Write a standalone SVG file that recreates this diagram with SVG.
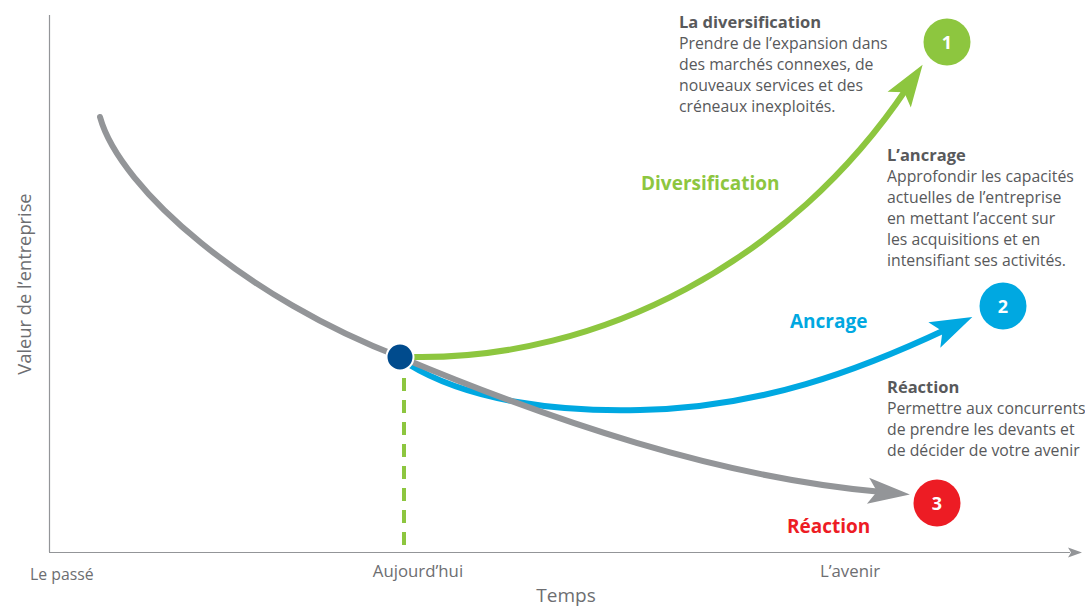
<svg xmlns="http://www.w3.org/2000/svg" width="1085" height="609" viewBox="0 0 1085 609">
<style>
.t{font-family:"Open Sans","Noto Sans",sans-serif;fill:#58595b;font-size:15.8px}
.h{font-family:"Open Sans","Noto Sans",sans-serif;fill:#58595b;font-size:16.5px;font-weight:bold}
.ax{font-family:"Open Sans","Noto Sans",sans-serif;fill:#6d6e71;font-weight:400}
.lab{font-family:"Open Sans","Noto Sans",sans-serif;font-size:19px;font-weight:bold}
.num{font-family:"Open Sans","Noto Sans",sans-serif;fill:#fff;font-size:18px;font-weight:bold;text-anchor:middle}
.curve{fill:none;stroke-width:6;stroke-linecap:round}
</style>
<defs>
<marker id="ag" markerUnits="userSpaceOnUse" markerWidth="60" markerHeight="40" viewBox="-5 -20 60 40" refX="14" refY="0" orient="auto"><path d="M0,-14 L42,0 L0,14 L9,0 Z" fill="#8dc63f"/></marker>
<marker id="ab" markerUnits="userSpaceOnUse" markerWidth="60" markerHeight="40" viewBox="-5 -20 60 40" refX="14" refY="0" orient="auto"><path d="M0,-14 L42,0 L0,14 L9,0 Z" fill="#00a8e1"/></marker>
<marker id="ar" markerUnits="userSpaceOnUse" markerWidth="60" markerHeight="40" viewBox="-5 -20 60 40" refX="14" refY="0" orient="auto"><path d="M0,-13 L42,0 L0,13 L9,0 Z" fill="#939598"/></marker>
<marker id="ax" markerUnits="userSpaceOnUse" markerWidth="20" markerHeight="14" viewBox="-2 -7 20 14" refX="2" refY="0" orient="auto"><path d="M0,-5 L14,0 L0,5 L3,0 Z" fill="#939598"/></marker>
</defs>
<g id="axes">
<line x1="49.5" y1="15" x2="49.5" y2="552" stroke="#939598" stroke-width="1.2"/>
<line x1="49" y1="552.5" x2="1070" y2="552.5" stroke="#939598" stroke-width="1.2" marker-end="url(#ax)"/>
<text class="ax" x="30" y="580" font-size="15.8">Le passé</text>
<text class="ax" x="418" y="577" text-anchor="middle" font-size="16.8">Aujourd’hui</text>
<text class="ax" x="850" y="577" text-anchor="middle" font-size="16.8">L’avenir</text>
<text class="ax" x="566" y="602" text-anchor="middle" font-size="19">Temps</text>
<text class="ax" transform="translate(31,284) rotate(-90)" text-anchor="middle" font-size="18.3">Valeur de l’entreprise</text>
</g>
<g id="connectors">
<line x1="404" y1="378" x2="404" y2="552" stroke="#8dc63f" stroke-width="4" stroke-dasharray="13,9"/>
<path class="curve" stroke="#00a8e1" d="M408,364 C470,402 560,412 640,410 C760,408 860,370 947,329" marker-end="url(#ab)"/>
<path class="curve" stroke="#939598" d="M100,117 C120,190 250,300 400,357 C550,420 720,478 882,492" marker-end="url(#ar)"/>
<path class="curve" stroke="#8dc63f" d="M413,357 C600,360 790,262 907,88" marker-end="url(#ag)"/>
</g>
<g id="today">
<circle cx="400" cy="357" r="13.5" fill="#004b8d" stroke="#fff" stroke-width="2"/>
</g>
<g id="node1">
<circle cx="947" cy="42" r="23.5" fill="#8dc63f"/>
<text class="num" x="947" y="49">1</text>
</g>
<g id="node2">
<circle cx="1003" cy="306" r="23.5" fill="#00a8e1"/>
<text class="num" x="1003" y="313">2</text>
</g>
<g id="node3">
<circle cx="937" cy="503" r="23.5" fill="#ed1c24"/>
<text class="num" x="937" y="510">3</text>
</g>
<g id="labels">
<text class="lab" x="641" y="190" fill="#8dc63f">Diversification</text>
<text class="lab" x="790" y="328" fill="#00a8e1">Ancrage</text>
<text class="lab" x="787" y="533" fill="#ed1c24">Réaction</text>
</g>
<g id="desc1">
<text class="h" x="679" y="28">La diversification</text>
<text class="t" x="679" y="49">Prendre de l’expansion dans</text>
<text class="t" x="679" y="70">des marchés connexes, de</text>
<text class="t" x="679" y="91">nouveaux services et des</text>
<text class="t" x="679" y="112">créneaux inexploités.</text>
</g>
<g id="desc2">
<text class="h" x="887" y="161">L’ancrage</text>
<text class="t" x="887" y="182">Approfondir les capacités</text>
<text class="t" x="887" y="203">actuelles de l’entreprise</text>
<text class="t" x="887" y="224">en mettant l’accent sur</text>
<text class="t" x="887" y="245">les acquisitions et en</text>
<text class="t" x="887" y="266">intensifiant ses activités.</text>
</g>
<g id="desc3">
<text class="h" x="887" y="393">Réaction</text>
<text class="t" x="887" y="414">Permettre aux concurrents</text>
<text class="t" x="887" y="435">de prendre les devants et</text>
<text class="t" x="887" y="456">de décider de votre avenir</text>
</g>
</svg>
